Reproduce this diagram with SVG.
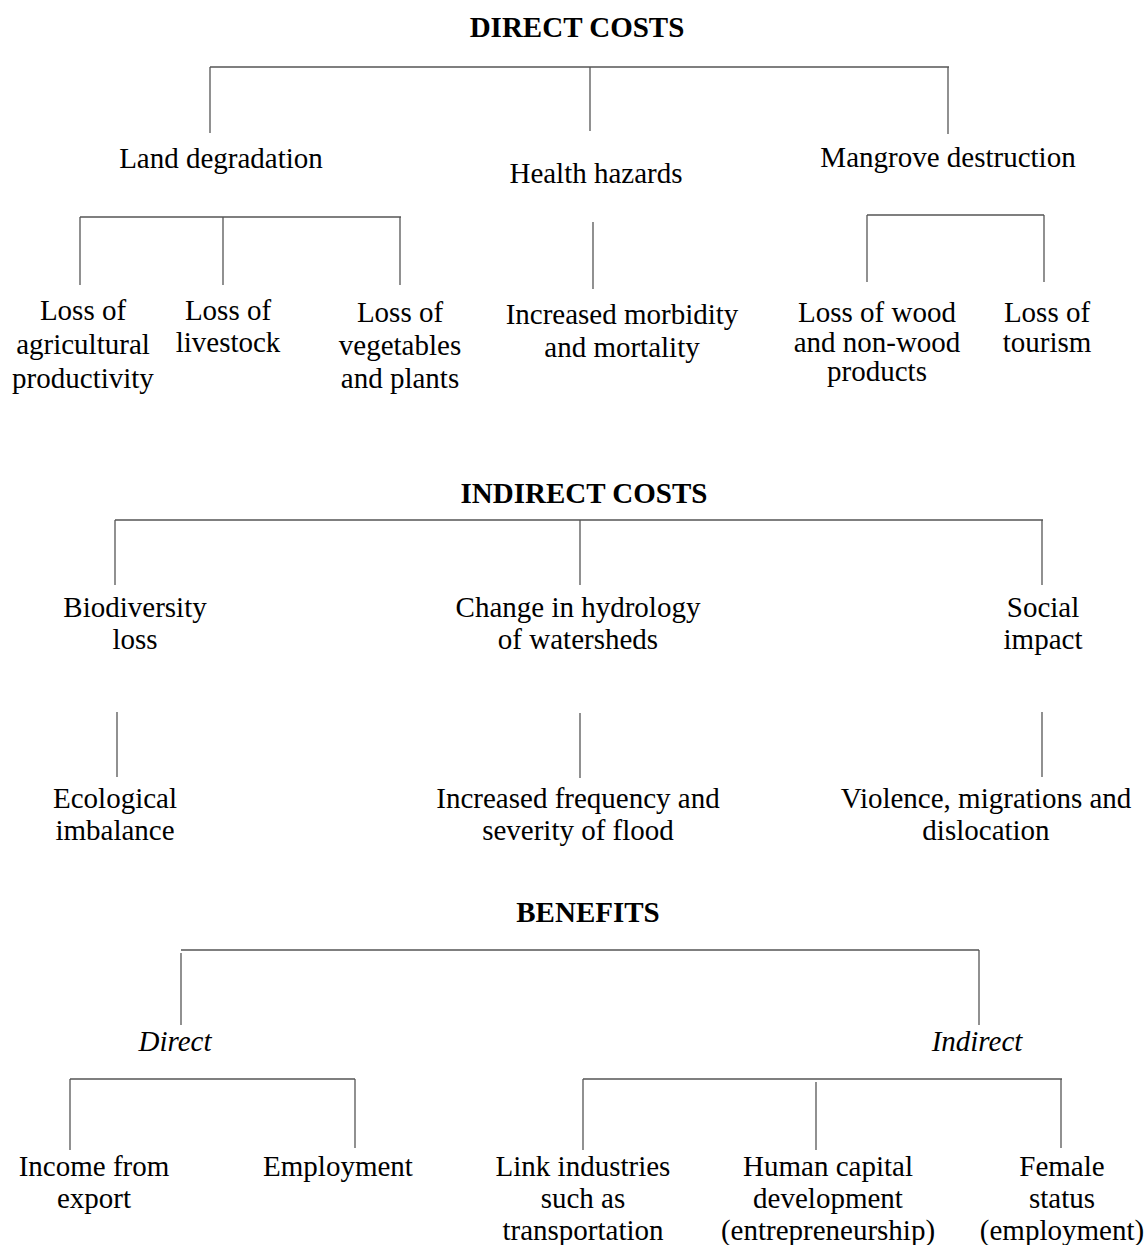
<svg xmlns="http://www.w3.org/2000/svg" width="1147" height="1245" viewBox="0 0 1147 1245">
<style>
text{font-family:"Liberation Serif","Times New Roman",serif;font-size:29px;fill:#000;text-anchor:middle}
.h{font-weight:bold;font-size:29px}
.i{font-style:italic}
.c line{stroke:#555;stroke-width:1.3}
</style>
<rect width="1147" height="1245" fill="#fff"/>
<g class="c" id="connectors">
<line x1="210" y1="67" x2="949" y2="67"/>
<line x1="210" y1="67" x2="210" y2="133"/>
<line x1="590" y1="67" x2="590" y2="131"/>
<line x1="948" y1="67" x2="948" y2="134"/>
<line x1="80" y1="217" x2="401" y2="217"/>
<line x1="80" y1="217" x2="80" y2="285"/>
<line x1="223" y1="217" x2="223" y2="285"/>
<line x1="400" y1="217" x2="400" y2="285"/>
<line x1="593" y1="222" x2="593" y2="289"/>
<line x1="867" y1="215" x2="1044" y2="215"/>
<line x1="867" y1="215" x2="867" y2="282"/>
<line x1="1044" y1="215" x2="1044" y2="282"/>
<line x1="115" y1="520" x2="1043" y2="520"/>
<line x1="115" y1="520" x2="115" y2="585"/>
<line x1="580" y1="520" x2="580" y2="585"/>
<line x1="1042" y1="520" x2="1042" y2="585"/>
<line x1="117" y1="712" x2="117" y2="777"/>
<line x1="580" y1="713" x2="580" y2="778"/>
<line x1="1042" y1="712" x2="1042" y2="777"/>
<line x1="181" y1="950" x2="979" y2="950"/>
<line x1="181" y1="953" x2="181" y2="1025"/>
<line x1="979" y1="950" x2="979" y2="1025"/>
<line x1="70" y1="1079" x2="355" y2="1079"/>
<line x1="70" y1="1079" x2="70" y2="1150"/>
<line x1="355" y1="1079" x2="355" y2="1148"/>
<line x1="583" y1="1079" x2="1062" y2="1079"/>
<line x1="583" y1="1079" x2="583" y2="1150"/>
<line x1="816" y1="1082" x2="816" y2="1150"/>
<line x1="1061" y1="1079" x2="1061" y2="1148"/>
</g>
<g id="direct-costs"><text class="h" x="577" y="37">DIRECT COSTS</text></g>
<g id="land-degradation"><text x="221" y="168">Land degradation</text></g>
<g id="health-hazards"><text x="596" y="183">Health hazards</text></g>
<g id="mangrove-destruction"><text x="948" y="167">Mangrove destruction</text></g>
<g id="loss-agri"><text x="83" y="320">Loss of</text><text x="83" y="354">agricultural</text><text x="83" y="388">productivity</text></g>
<g id="loss-livestock"><text x="228" y="320">Loss of</text><text x="228" y="352">livestock</text></g>
<g id="loss-veg"><text x="400" y="322">Loss of</text><text x="400" y="355">vegetables</text><text x="400" y="388">and plants</text></g>
<g id="morbidity"><text x="622" y="324">Increased morbidity</text><text x="622" y="357">and mortality</text></g>
<g id="loss-wood"><text x="877" y="322">Loss of wood</text><text x="877" y="352">and non-wood</text><text x="877" y="381">products</text></g>
<g id="loss-tourism"><text x="1047" y="322">Loss of</text><text x="1047" y="352">tourism</text></g>
<g id="indirect-costs"><text class="h" x="584" y="503">INDIRECT COSTS</text></g>
<g id="biodiversity"><text x="135" y="617">Biodiversity</text><text x="135" y="649">loss</text></g>
<g id="hydrology"><text x="578" y="617">Change in hydrology</text><text x="578" y="649">of watersheds</text></g>
<g id="social"><text x="1043" y="617">Social</text><text x="1043" y="649">impact</text></g>
<g id="ecological"><text x="115" y="808">Ecological</text><text x="115" y="840">imbalance</text></g>
<g id="flood"><text x="578" y="808">Increased frequency and</text><text x="578" y="840">severity of flood</text></g>
<g id="violence"><text x="986" y="808">Violence, migrations and</text><text x="986" y="840">dislocation</text></g>
<g id="benefits"><text class="h" x="588" y="922">BENEFITS</text></g>
<g id="direct"><text class="i" x="175" y="1051">Direct</text></g>
<g id="indirect"><text class="i" x="977" y="1051">Indirect</text></g>
<g id="income"><text x="94" y="1176">Income from</text><text x="94" y="1208">export</text></g>
<g id="employment"><text x="338" y="1176">Employment</text></g>
<g id="link"><text x="583" y="1176">Link industries</text><text x="583" y="1208">such as</text><text x="583" y="1240">transportation</text></g>
<g id="human"><text x="828" y="1176">Human capital</text><text x="828" y="1208">development</text><text x="828" y="1240">(entrepreneurship)</text></g>
<g id="female"><text x="1062" y="1176">Female</text><text x="1062" y="1208">status</text><text x="1062" y="1240">(employment)</text></g>
</svg>
